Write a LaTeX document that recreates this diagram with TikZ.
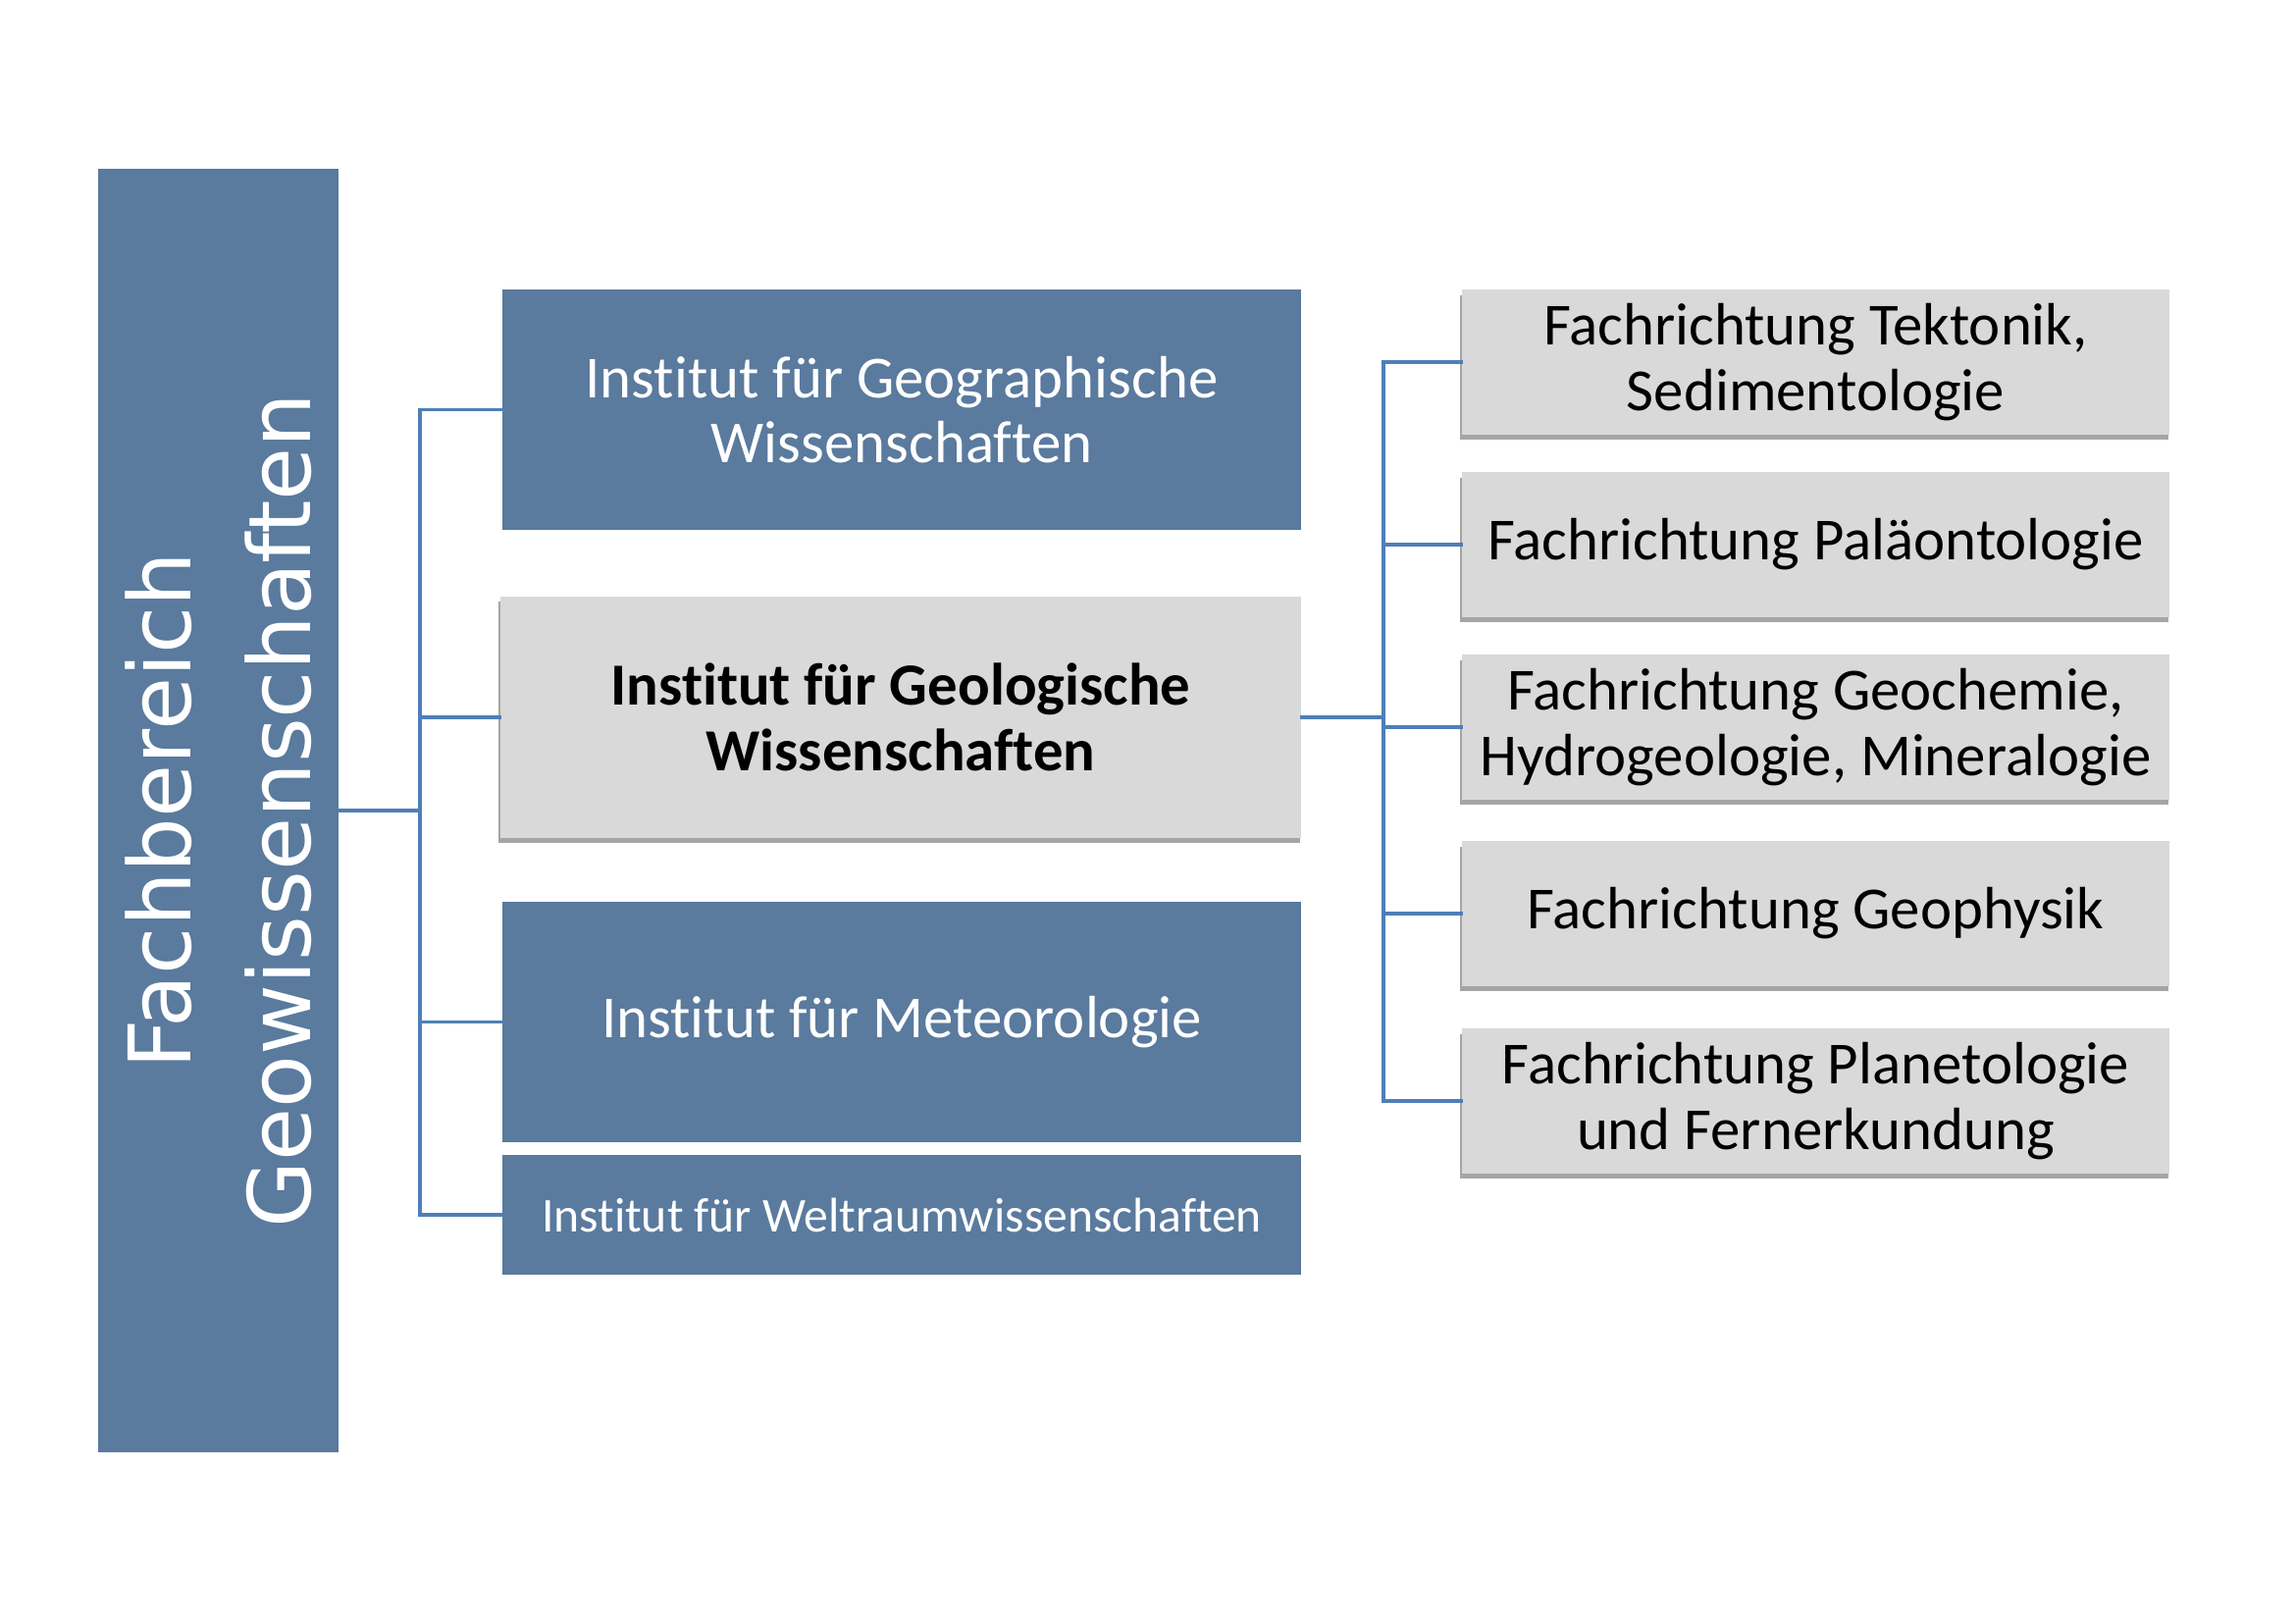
\documentclass[tikz,border=0pt]{standalone}
\usepackage{fontspec}
\setmainfont{Carlito}[Ligatures=NoCommon]
\newfontfamily\verdfont{DejaVu Sans}
\usetikzlibrary{shadows}
\definecolor{boxblue}{HTML}{5A7A9E}
\definecolor{linkblue}{HTML}{4F7FB8}
\definecolor{boxgray}{HTML}{D9D9D9}
\begin{document}
\begin{tikzpicture}[x=0.01cm,y=-0.01cm,
  bluebox/.style={rectangle, fill=boxblue, text=white, align=center, inner sep=0pt,
    minimum width=8.14cm, font=\fontsize{17.3}{19}\selectfont},
  graybox/.style={rectangle, fill=boxgray, text=black, align=center, inner sep=0pt,
    drop shadow={shadow xshift=-0.4pt, shadow yshift=-1.5pt, opacity=0.5, fill=black!70}},
  subbox/.style={graybox, minimum width=7.21cm, minimum height=1.47cm,
    font=\fontsize{17.3}{19}\selectfont},
  link/.style={draw=linkblue, line width=1pt, line cap=rect}]
\useasboundingbox (0,0) rectangle (2339,1654);
\fill[white] (0,0) rectangle (2339,1654);

% left vertical box
\node[rectangle, fill=boxblue, text=white, rotate=90, align=center, inner sep=0pt,
  minimum width=13.08cm, minimum height=2.45cm,
  font=\verdfont\fontsize{25}{34.6}\selectfont] (fb) at (222.5,826)
  {Fachbereich\\Geowissenschaften};

% institutes
\node[bluebox, minimum height=2.45cm] (geo) at (919,417.5) {Institut für Geographische\\Wissenschaften};
\node[graybox, minimum width=8.16cm, minimum height=2.46cm,
  font=\bfseries\fontsize{17.3}{19}\selectfont] (geol) at (918,731) {Institut für Geologische\\Wissenschaften};
\node[bluebox, minimum height=2.45cm] (met) at (919,1041.5) {Institut für Meteorologie};
\node[bluebox, minimum height=1.22cm, font=\fontsize{14.1}{16}\selectfont] (welt) at (919,1238) {Institut für Weltraumwissenschaften};

% Fachrichtungen
\node[subbox] (r1) at (1850.5,369) {Fachrichtung Tektonik,\\Sedimentologie};
\node[subbox] (r2) at (1850.5,555) {Fachrichtung Paläontologie};
\node[subbox] (r3) at (1850.5,741) {Fachrichtung Geochemie,\\Hydrogeologie, Mineralogie};
\node[subbox] (r4) at (1850.5,931) {Fachrichtung Geophysik};
\node[subbox] (r5) at (1850.5,1122) {Fachrichtung Planetologie\\und Fernerkundung};

% connectors left
\coordinate (ltrunk) at (428,823);
\draw[link] (fb.south) -- (fb.south -| ltrunk);
\draw[link] (geo.west -| ltrunk) -- (welt.west -| ltrunk);
\foreach \n in {geo,geol,met,welt}
  \draw[link] (\n.west -| ltrunk) -- (\n.west);

% connectors right
\coordinate (rtrunk) at (1410,730);
\draw[link] (geol.east) -- (geol.east -| rtrunk);
\draw[link] (r1.west -| rtrunk) -- (r5.west -| rtrunk);
\foreach \n in {r1,r2,r3,r4,r5}
  \draw[link] (\n.west -| rtrunk) -- (\n.west);
\end{tikzpicture}
\end{document}
